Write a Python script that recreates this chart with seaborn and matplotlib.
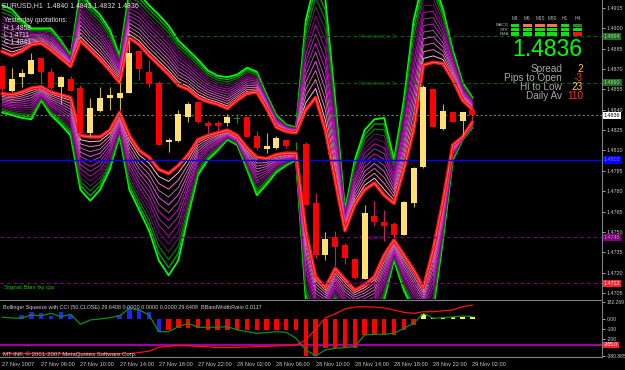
import numpy as np
import pandas as pd
import matplotlib
matplotlib.use("Agg")
import matplotlib.pyplot as plt
import matplotlib.transforms as mtransforms
from matplotlib.patches import Rectangle
import seaborn as sns

W, H = 625, 370

# ---------------- data ----------------
bars = list(range(49))
opens  = [1.4872,1.4854,1.4864,1.4866,1.4878,1.4868,1.4857,1.4863,1.4856,1.4823,
          1.4839,1.4849,1.4849,1.4852,1.4883,1.4868,1.4860,1.4816,1.4817,1.4835,
          1.4846,1.4830,1.4830,1.4830,1.4833,1.4835,1.4821,1.4811,1.4812,1.4818,
          1.4813,1.4815,1.4771,1.4733,1.4746,1.4740,1.4730,1.4715,1.4762,1.4757,
          1.4756,1.4748,1.4771,1.4798,1.4855,1.4826,1.4838,1.4832,1.4840]
highs  = [1.4873,1.4871,1.4870,1.4882,1.4878,1.4871,1.4865,1.4865,1.4858,1.4849,
          1.4857,1.4857,1.4860,1.4891,1.4883,1.4877,1.4861,1.4819,1.4840,1.4846,
          1.4846,1.4832,1.4832,1.4837,1.4837,1.4835,1.4824,1.4823,1.4821,1.4818,
          1.4816,1.4816,1.4779,1.4750,1.4751,1.4742,1.4731,1.4770,1.4773,1.4766,
          1.4757,1.4773,1.4798,1.4858,1.4856,1.4844,1.4838,1.4838,1.4843]
lows   = [1.4854,1.4853,1.4857,1.4866,1.4860,1.4855,1.4844,1.4854,1.4821,1.4821,
          1.4838,1.4840,1.4840,1.4852,1.4862,1.4857,1.4814,1.4809,1.4816,1.4831,
          1.4830,1.4823,1.4824,1.4828,1.4830,1.4820,1.4810,1.4808,1.4811,1.4812,
          1.4810,1.4770,1.4731,1.4729,1.4725,1.4726,1.4715,1.4715,1.4754,1.4743,
          1.4746,1.4748,1.4768,1.4797,1.4827,1.4825,1.4831,1.4821,1.4832]
closes = [1.4855,1.4863,1.4867,1.4877,1.4868,1.4856,1.4864,1.4854,1.4823,1.4841,
          1.4849,1.4851,1.4852,1.4882,1.4870,1.4859,1.4814,1.4818,1.4837,1.4844,
          1.4831,1.4828,1.4828,1.4835,1.4833,1.4820,1.4812,1.4813,1.4819,1.4813,
          1.4813,1.4770,1.4733,1.4745,1.4739,1.4731,1.4716,1.4764,1.4757,1.4754,
          1.4748,1.4772,1.4797,1.4857,1.4827,1.4839,1.4831,1.4838,1.4836]

upper_outer = [1.4917,1.4914,1.4906,1.4900,1.4900,1.4900,1.4891,1.4880,1.4928,1.4917,
               1.4910,1.4899,1.4880,1.4928,1.4925,1.4917,1.4910,1.4902,1.4891,1.4884,
               1.4877,1.4869,1.4865,1.4864,1.4866,1.4871,1.4868,1.4851,1.4836,1.4829,
               1.4827,1.4906,1.4936,1.4921,1.4847,1.4766,1.4803,1.4825,1.4833,1.4834,
               1.4803,1.4847,1.4906,1.4936,1.4936,1.4914,1.4884,1.4860,1.4849]
upper_inner = [1.4883,1.4880,1.4883,1.4888,1.4889,1.4884,1.4878,1.4872,1.4891,1.4884,
               1.4877,1.4869,1.4860,1.4893,1.4888,1.4880,1.4873,1.4866,1.4858,1.4855,
               1.4849,1.4846,1.4844,1.4841,1.4847,1.4852,1.4853,1.4841,1.4827,1.4824,
               1.4823,1.4840,1.4849,1.4825,1.4788,1.4751,1.4770,1.4781,1.4786,1.4777,
               1.4771,1.4796,1.4825,1.4873,1.4875,1.4874,1.4862,1.4847,1.4840]
lower_inner = [1.4852,1.4851,1.4853,1.4856,1.4857,1.4853,1.4851,1.4849,1.4821,1.4820,
               1.4820,1.4825,1.4838,1.4821,1.4810,1.4805,1.4796,1.4793,1.4799,1.4807,
               1.4818,1.4821,1.4823,1.4825,1.4821,1.4812,1.4805,1.4804,1.4807,1.4808,
               1.4808,1.4751,1.4717,1.4709,1.4723,1.4715,1.4707,1.4711,1.4717,1.4733,
               1.4744,1.4733,1.4722,1.4709,1.4737,1.4773,1.4814,1.4820,1.4831]
lower_outer = [1.4838,1.4836,1.4834,1.4833,1.4847,1.4836,1.4829,1.4821,1.4781,1.4773,
               1.4781,1.4796,1.4821,1.4781,1.4766,1.4751,1.4729,1.4718,1.4729,1.4762,
               1.4792,1.4803,1.4810,1.4818,1.4814,1.4796,1.4777,1.4785,1.4794,1.4799,
               1.4803,1.4700,1.4685,1.4685,1.4700,1.4685,1.4685,1.4685,1.4685,1.4700,
               1.4729,1.4707,1.4692,1.4685,1.4692,1.4744,1.4803,1.4818,1.4827]

squeeze_hist = [10,0,47,81,66,40,81,47,0,0,0,0,47,133,110,75,-127,
                -110,-92,-92,-92,-110,-105,-110,-110,-110,-110,-110,-110,-110,-110,
                -380,-380,-300,-300,-300,-300,-160,-160,-160,-160,-110,-62,
                60,20,30,30,30,30]
hist_state = ['blue'] * 17 + ['red'] * 26 + ['yellow'] * 6
cci_line = [25,15,15,47,40,64,29,54,-50,-5,
            5,19,40,116,99,47,-127,-127,-75,-40,
            -81,-81,-81,-75,-109,-127,-144,-137,-127,-134,
            -196,-317,-380,-317,-300,-293,-283,-161,-154,-154,
            -144,-92,-40,64,12,19,26,36,29]
width_line = [-355,-355,-356,-356,-357,-357,-356,-356,-356,-357,
              -357,-357,-356,-356,-345,-330,-290,-280,-272,-275,
              -280,-285,-293,-293,-290,-287,-283,-280,-275,-270,
              -265,-213,-100,16,60,110,130,133,128,120,
              99,75,64,81,81,90,100,133,151]
squeeze_level = -265

date_ticks = [0,4,8,12,16,20,24,28,32,36,40,44,48]
date_labels = ["27 Nov 2007","27 Nov 06:00","27 Nov 10:00","27 Nov 14:00","27 Nov 18:00",
               "27 Nov 22:00","28 Nov 02:00","28 Nov 06:00","28 Nov 10:00","28 Nov 14:00",
               "28 Nov 18:00","28 Nov 22:00","29 Nov 02:00"]
price_ticks = [1.4915,1.4900,1.4885,1.4870,1.4855,1.4840,1.4825,1.4810,1.4795,
               1.4780,1.4765,1.4750,1.4735,1.4720,1.4705]
ind_ticks = [182.269, 0, -100, -200, -380.865]
ind_labels = ["182.269", "0.00", "-100", "-200", "-380.865"]

level_names  = ["Resistance 2", "Resistance 1", "Daily Pivot", "Support 1", "Support 2"]
level_values = [1.4894, 1.4860, 1.4803, 1.4746, 1.4712]
current_price = 1.4836

# ---------------- style ----------------
sns.set_theme(style="dark", rc={"axes.facecolor": "black", "figure.facecolor": "black",
                                "axes.edgecolor": "#808080", "axes.grid": False})
plt.rcParams["font.family"] = ["Liberation Sans", "DejaVu Sans"]

fig = plt.figure(figsize=(W / 100, H / 100), dpi=100, facecolor="black")
def fx(px): return px / W
def fy(py): return 1 - py / H

ax = fig.add_axes([0, fy(299), fx(602), 299 / H])
axi = fig.add_axes([0, fy(357), fx(602), 57 / H])

xl = (-2 / 9.8, 600 / 9.8)
for a in (ax, axi):
    a.set_facecolor("black")
    a.set_xlim(*xl)
    for s in a.spines.values():
        s.set_color("#808080")
        s.set_linewidth(0.8)
    a.spines["left"].set_visible(False)
ax.spines["bottom"].set_visible(False)
ax.spines["top"].set_visible(False)

ax.set_ylim(1.4915 - 291 / 13570, 1.4915 + 8 / 13570)
axi.set_ylim(-391.3, 203.1)

# ---------------- bands ----------------
fan_colors = ["#ff1010", "#ffc0d8", "#ff70c0", "#b07890", "#ff40ff", "#a05a90",
              "#e000e0", "#904090", "#c000c0", "#800080", "#6a1a6a", "#007a00",
              "#00b000", "#00ff00"]
fan_widths = [2.6, 0.7, 0.7, 0.7, 0.7, 0.7, 0.7, 0.7, 0.7, 0.7, 0.7, 0.9, 0.9, 1.3]
ts = np.linspace(0, 1, len(fan_colors))

def band_frame(inner, outer, tag):
    rows = []
    for k, t in enumerate(ts):
        for b, iv, ov in zip(bars, inner, outer):
            rows.append({"bar": b, "price": iv + t * (ov - iv), "level": k, "band": tag})
    return pd.DataFrame(rows)

bands = pd.concat([band_frame(upper_inner, upper_outer, "up"),
                   band_frame(lower_inner, lower_outer, "low")])
for k in range(len(fan_colors) - 1, -1, -1):
    for tag in ("up", "low"):
        sub = bands[(bands.level == k) & (bands.band == tag)]
        sns.lineplot(data=sub, x="bar", y="price", color=fan_colors[k],
                     linewidth=fan_widths[k], estimator=None, sort=False, ax=ax,
                     zorder=2 + (len(fan_colors) - k) * 0.01)
for arr in (upper_inner, lower_inner):
    sns.lineplot(x=bars, y=arr, color="#ff8080", linewidth=0.5, estimator=None,
                 sort=False, ax=ax, zorder=2.5)

# ---------------- levels ----------------
lv_colors = ["#006a00", "#006a00", "#0000ff", "#800080", "#900070"]
lv_styles = [(0, (3, 3)), (0, (3, 3)), "-", (0, (3, 3)), (0, (3, 3))]
lv_box = ["#1f6f1f", "#1f6f1f", "#0000ff", "#800080", "#ff2030"]
lv_boxtxt = ["#9fd09f", "#9fd09f", "#8080ff", "#d080d0", "#ffffff"]
ytr = mtransforms.blended_transform_factory(ax.transAxes, ax.transData)
for name, val, c, ls, bc, tc in zip(level_names, level_values, lv_colors, lv_styles, lv_box, lv_boxtxt):
    ax.axhline(val, color=c, ls=ls, lw=0.8 if ls != "-" else 1.0, zorder=3)
    ax.text(357 / 9.8, val - 0.00003, name, color=c, fontsize=4.5,
            va="center", ha="left", zorder=3.1)
    ax.text(1.003, val, f"{val:.4f}", transform=ytr, color=tc, fontsize=3.9,
            va="center", ha="left", clip_on=False,
            bbox=dict(boxstyle="square,pad=0.2", fc=bc, ec="none"))
ax.axhline(current_price, color="#7a7a55", ls=(0, (2, 2)), lw=0.8, zorder=3)
ax.text(1.003, current_price, f"{current_price:.4f}", transform=ytr, color="black",
        fontsize=3.9, va="center", ha="left", clip_on=False,
        bbox=dict(boxstyle="square,pad=0.2", fc="white", ec="none"))

# ---------------- candles ----------------
for b, o, h, l, c in zip(bars, opens, highs, lows, closes):
    if c > o:
        body, wick = "#ffe070", "#c8b040"
    elif c < o:
        body, wick = "#ff0000", "#c02070"
    else:
        body, wick = "#00a000", "#00a000"
    ax.vlines(b, l, h, color=wick, lw=0.8, zorder=5)
    ax.bar(b, max(abs(c - o), 0.00006), bottom=min(o, c), width=0.62,
           color=body, linewidth=0, zorder=6)

# ---------------- axes ticks ----------------
ax.yaxis.tick_right()
ax.set_yticks(price_ticks)
ax.set_yticklabels([f"{p:.4f}" for p in price_ticks])
ax.tick_params(axis="y", colors="#c8c8c8", labelsize=3.9, length=2, width=0.6, pad=1.2)
ax.set_xticks([])
ax.set_xlabel("")
ax.set_ylabel("")

# ---------------- indicator ----------------
st_col = {"blue": "#2020ff", "red": "#ff0000", "yellow": "#ffff40"}
axi.bar(bars, squeeze_hist, width=0.45, color=[st_col[s] for s in hist_state],
        linewidth=0, zorder=2)
axi.axhline(squeeze_level, color="#a000a0", lw=1.6, zorder=1.5)
sns.lineplot(x=bars, y=width_line, color="#ff1010", linewidth=0.9, estimator=None,
             sort=False, ax=axi, zorder=3)
sns.lineplot(x=bars, y=cci_line, color="#109010", linewidth=0.9, estimator=None,
             sort=False, ax=axi, zorder=4)
axi.yaxis.tick_right()
axi.set_yticks(ind_ticks)
axi.set_yticklabels(ind_labels)
axi.tick_params(axis="y", colors="#c8c8c8", labelsize=3.6, length=2, width=0.6, pad=1.2)
axi.set_xticks(date_ticks)
axi.set_xticklabels(date_labels, ha="left")
axi.tick_params(axis="x", colors="#c8c8c8", labelsize=4.1, length=2, width=0.6, pad=1.5)
axi.set_xlabel("")
axi.set_ylabel("")
ytri = mtransforms.blended_transform_factory(axi.transAxes, axi.transData)
axi.text(1.003, squeeze_level, "-265.0", transform=ytri, color="white", fontsize=3.6,
         va="center", ha="left", clip_on=False,
         bbox=dict(boxstyle="square,pad=0.15", fc="#ff2030", ec="none"))
axi.text(0.005, 0.86, "Bollinger Squeeze with CCI (50,CLOSE) 29.6408 0.0000 0.0000 0.0000 29.6408  BBandWidthRatio 0.0117",
         transform=axi.transAxes, color="#d0d0d0", fontsize=3.9, va="center", ha="left")
axi.text(0.005, 0.05, "MT-INF, \u00a9 2001-2007 MetaQuotes Software Corp.", transform=axi.transAxes,
         color="#d0d0d0", fontsize=4.3, va="center", ha="left")

# ---------------- overlay texts ----------------
def ftext(x, y, s, **kw):
    fig.text(fx(x), fy(y), s, va="center", **kw)

ftext(2, 6, "EURUSD,H1  1.4840 1.4843 1.4832 1.4836", color="#e0e0e0", fontsize=5.0)
ftext(4, 20, "Yesterday quotations:", color="#e0e0e0", fontsize=4.8)
ftext(4, 28, "H 1.4858", color="#e0e0e0", fontsize=4.8)
ftext(4, 35.5, "L 1.4711", color="#e0e0e0", fontsize=4.8)
ftext(4, 43, "C 1.4841", color="#e0e0e0", fontsize=4.8)
ftext(4, 287, "Signal Bias by cja", color="#00c000", fontsize=4.6)

cols_x = [(511, 519), (523, 532), (535, 545), (547, 557), (561, 569), (573, 582)]
col_names = ["M1", "M5", "M15", "M30", "H1", "H4"]
rows_y = [(24, 27), (28.3, 31), (32.3, 35.5)]
row_names = ["MACD", "STR", "EMA"]
grid = [["#10e010", "#ff7050", "#ff7050", "#ff7050", "#10e010", "#209020"],
        ["#10e010"] * 6,
        ["#10e010"] * 5 + ["#ff1010"]]
for (x0, x1), cn in zip(cols_x, col_names):
    ftext((x0 + x1) / 2, 18, cn, color="#b0b0b0", fontsize=3.5, ha="center")
for r, ((y0, y1), rn) in enumerate(zip(rows_y, row_names)):
    ftext(509, (y0 + y1) / 2, rn, color="#b0b0b0", fontsize=3.2, ha="right")
    for c, (x0, x1) in enumerate(cols_x):
        fig.add_artist(Rectangle((fx(x0), fy(y1)), fx(x1 - x0), (y1 - y0) / H,
                                 transform=fig.transFigure, color=grid[r][c], lw=0))

ftext(547, 50, "1.4836", color="#00ff00", fontsize=16.5, ha="center")
info_labels = ["Spread", "Pips to Open", "Hi to Low", "Daily Av"]
info_values = ["2", "-3", "23", "110"]
info_colors = ["#ffd040", "#ff3030", "#ffd040", "#ff3030"]
for i, (lab, v, c) in enumerate(zip(info_labels, info_values, info_colors)):
    ftext(562, 69 + 9 * i, lab, color="#a8a8a8", fontsize=7.2, ha="right")
    ftext(583, 69 + 9 * i, v, color=c, fontsize=7.2, ha="right")

fig.savefig("out.png", dpi=100, facecolor="black")
